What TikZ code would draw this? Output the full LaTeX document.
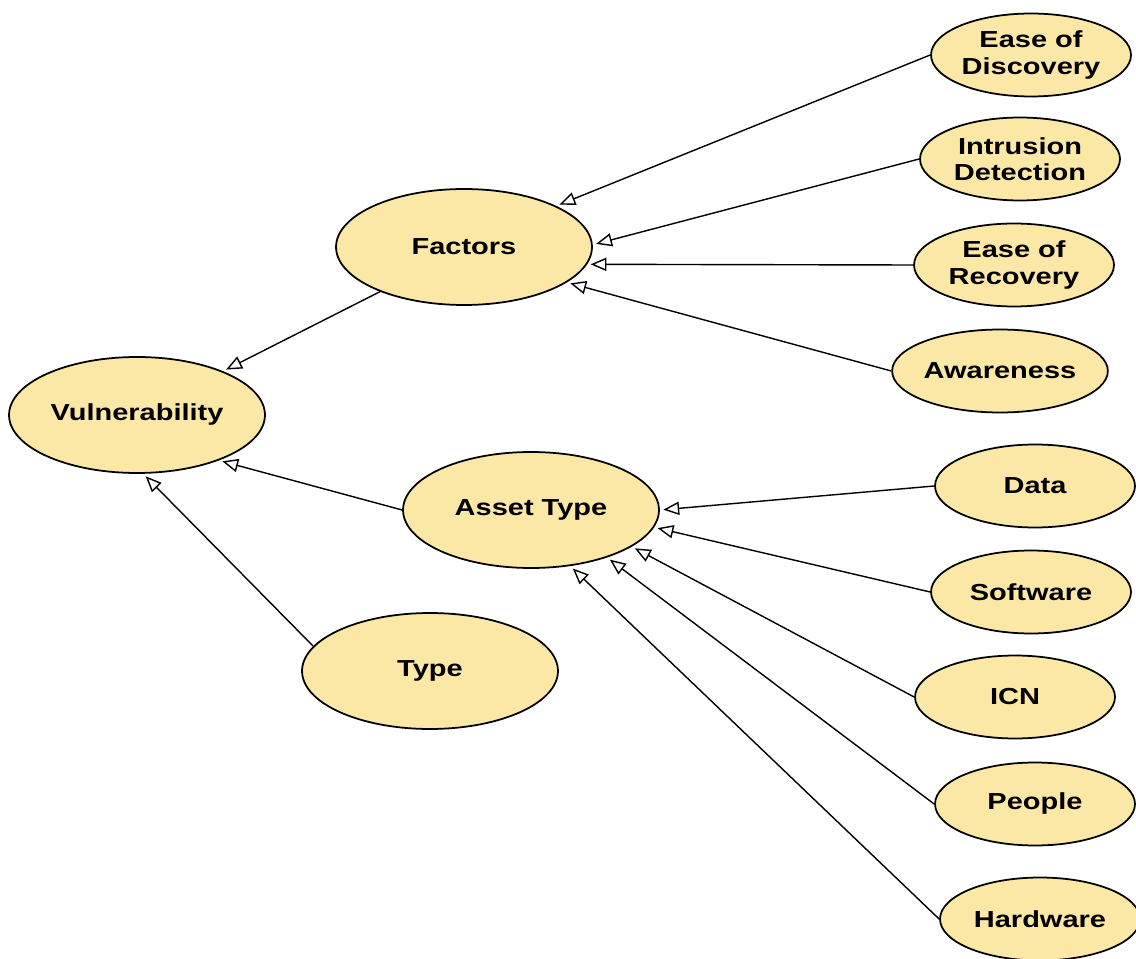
\documentclass[tikz,border=0pt]{standalone}
\usepackage{fontspec}
\setmainfont{Liberation Sans}[FakeStretch=1.25]
\usetikzlibrary{shapes.geometric, arrows.meta}

\definecolor{nodefill}{RGB}{252,232,166}

\begin{document}
\begin{tikzpicture}[x=0.02cm, y=-0.02cm,
    concept/.style={ellipse, draw, line width=1pt, fill=nodefill, inner sep=0pt,
        minimum width=5.12cm, minimum height=2.32cm, align=center,
        font=\fontsize{13.2}{15}\selectfont\bfseries},
    leaf/.style={concept, minimum width=4cm, minimum height=1.66cm},
    link/.style={line width=0.8pt, shorten >=2pt, -{Triangle[open, length=9pt, width=7.5pt]}}]
    \useasboundingbox (0, 0) rectangle (1136, 959);
    \node[concept] (0) at (137, 415) {Vulnerability};
    \node[concept] (1) at (464, 247) {Factors};
    \node[concept] (2) at (531, 510) {Asset Type};
    \node[concept] (3) at (430, 671) {Type};
    \node[leaf] (4) at (1031, 55) {Ease of\\Discovery};
    \node[leaf] (5) at (1020, 159) {Intrusion\\Detection};
    \node[leaf] (6) at (1014, 265) {Ease of\\Recovery};
    \node[leaf] (7) at (1000, 371) {Awareness};
    \node[leaf] (8) at (1035, 486) {Data};
    \node[leaf] (9) at (1031, 592) {Software};
    \node[leaf] (10) at (1015, 697) {ICN};
    \node[leaf] (11) at (1035, 804) {People};
    \node[leaf] (12) at (1040, 919) {Hardware};
    % factors
    \draw[link] (4.west) -- (1.24);
    \draw[link] (5.west) -- (1.1);
    \draw[link] (6.west) -- (1.-8);
    \draw[link] (7.west) -- (1.-19);
    % asset types
    \draw[link] (8.west) -- (2.0);
    \draw[link] (9.west) -- (2.-8);
    \draw[link] (10.west) -- (2.-20);
    \draw[link] (11.west) -- (2.-32);
    \draw[link] (12.west) -- (2.-55);
    % vulnerability
    \draw[link] (1.208) -- (0.27);
    \draw[link] (2.west) -- (0.-29);
    \draw[link] (3.168) -- (0.-84);
\end{tikzpicture}
\end{document}
